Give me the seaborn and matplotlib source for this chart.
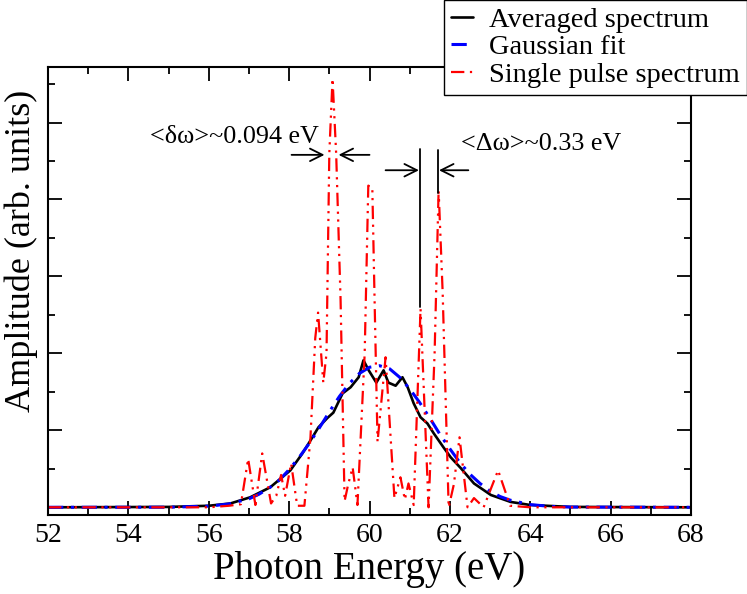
import matplotlib
matplotlib.use("Agg")
import matplotlib.pyplot as plt
from matplotlib.ticker import MultipleLocator, NullFormatter
import seaborn as sns

# values (photon energy in eV, amplitude in arb. units)
avg_x = [52.0, 55.0, 56.0, 56.54, 57.03, 57.53, 57.78, 58.03, 58.33, 58.58, 58.73, 58.95,
         59.1, 59.33, 59.53, 59.73, 59.85, 59.98, 60.17, 60.35, 60.47, 60.65, 60.82, 60.95,
         61.1, 61.27, 61.44, 61.6, 61.84, 62.02, 62.27, 62.6, 63.02, 63.51, 64.0, 65.0, 68.0]
avg_y = [0.0, 0.005, 0.02, 0.05, 0.13, 0.26, 0.37, 0.48, 0.70, 0.91, 1.04, 1.16,
         1.23, 1.48, 1.56, 1.69, 1.91, 1.78, 1.62, 1.78, 1.62, 1.58, 1.69, 1.56,
         1.35, 1.17, 1.09, 0.96, 0.78, 0.65, 0.51, 0.31, 0.16, 0.07, 0.03, 0.005, 0.0]

fit_x = [52.0, 55.0, 56.0, 56.5, 57.0, 57.25, 57.5, 57.75, 58.0, 58.25, 58.5, 58.75, 59.0,
         59.25, 59.5, 59.75, 60.0, 60.25, 60.5, 60.75, 61.0, 61.25, 61.5, 61.75, 62.0,
         62.25, 62.5, 62.75, 63.0, 63.25, 63.5, 64.0, 64.5, 65.0, 68.0]
fit_y = [0.0, 0.001, 0.015, 0.043, 0.11, 0.17, 0.25, 0.35, 0.49, 0.65, 0.83, 1.03, 1.24,
         1.44, 1.61, 1.74, 1.82, 1.84, 1.80, 1.69, 1.54, 1.36, 1.16, 0.95, 0.76,
         0.58, 0.43, 0.31, 0.21, 0.14, 0.093, 0.035, 0.012, 0.003, 0.0]

pulse_x = [52.0, 56.0, 56.5, 56.8, 56.98, 57.16, 57.33, 57.55, 57.68, 57.8, 57.9, 58.05,
           58.2, 58.38, 58.53, 58.65, 58.72, 58.85, 58.93, 59.0, 59.08, 59.17, 59.28,
           59.38, 59.47, 59.58, 59.7, 59.88, 59.97, 60.07, 60.13, 60.2, 60.4, 60.62,
           60.77, 60.88, 60.97, 61.1, 61.27, 61.47, 61.62, 61.72, 61.82, 61.97, 62.1,
           62.24, 62.44, 62.6, 62.84, 63.2, 63.5, 64.0, 68.0]
pulse_y = [0.0, 0.0, 0.02, 0.04, 0.63, 0.03, 0.70, 0.05, 0.15, 0.42, 0.15, 0.57,
           0.02, 0.02, 0.90, 2.20, 2.53, 1.62, 2.0, 4.6, 5.57, 4.6, 2.7,
           0.08, 0.30, 0.52, 0.03, 2.0, 4.18, 4.15, 2.6, 0.85, 1.95, 0.12,
           0.39, 0.10, 0.31, 0.03, 2.58, 0.0, 2.0, 4.12, 2.8, 0.0, 0.3,
           0.91, 0.0, 0.12, 0.0, 0.48, 0.02, 0.0, 0.0]

sns.set_theme(style="ticks")
plt.rcParams['font.family'] = ['Liberation Serif', 'DejaVu Serif']
plt.rcParams['text.color'] = 'black'
plt.rcParams['axes.labelcolor'] = 'black'

fig = plt.figure(figsize=(7.47, 5.94), dpi=100)
ax = fig.add_axes([0.0643, 0.133, 0.8607, 0.754])

sns.lineplot(x=avg_x, y=avg_y, ax=ax, color='black', lw=1.9, label='Averaged spectrum')
sns.lineplot(x=fit_x, y=fit_y, ax=ax, color='blue', lw=2.2,
             linestyle=(0, (5, 2.5, 1, 2.5)), label='Gaussian fit')
sns.lineplot(x=pulse_x, y=pulse_y, ax=ax, color='red', lw=1.6,
             linestyle=(0, (6, 2.5, 1, 2.5, 1, 2.5)), label='Single pulse spectrum')

# markers of the spike spacing
ax.plot([61.25, 61.25], [2.6, 4.66], color='black', lw=1.3)
ax.plot([61.71, 61.71], [4.09, 4.64], color='black', lw=1.3)
arrow = dict(arrowstyle='->,head_length=0.6,head_width=0.3', color='black', lw=1.3,
             mutation_scale=15, shrinkA=0, shrinkB=0)
ax.annotate('', xy=(58.88, 4.58), xytext=(58.06, 4.58), arrowprops=arrow)
ax.annotate('', xy=(59.23, 4.58), xytext=(60.0, 4.58), arrowprops=arrow)
ax.annotate('', xy=(61.23, 4.38), xytext=(60.4, 4.38), arrowprops=arrow)
ax.annotate('', xy=(61.73, 4.38), xytext=(62.46, 4.38), arrowprops=arrow)
ax.text(54.54, 4.73, '<δω>~0.094 eV', fontsize=18.8, va='baseline')
ax.text(62.27, 4.64, '<Δω>~0.33 eV', fontsize=18.8, va='baseline')

ax.set_xlim(52, 68)
ax.set_ylim(-0.1, 5.72)
ax.xaxis.set_major_locator(MultipleLocator(2))
ax.xaxis.set_minor_locator(MultipleLocator(1))
ax.yaxis.set_major_locator(MultipleLocator(1))
ax.yaxis.set_minor_locator(MultipleLocator(0.5))
ax.yaxis.set_major_formatter(NullFormatter())
ax.tick_params(which='both', direction='in', top=True, right=True, width=1.3,
               labelsize=20, colors='black')
ax.tick_params(which='major', length=10, pad=6)
ax.tick_params(which='minor', length=5)
for s in ax.spines.values():
    s.set_linewidth(1.5)
    s.set_color('black')

ax.set_xlabel('Photon Energy (eV)', fontsize=28, labelpad=2)
ax.set_ylabel('Amplitude (arb. units)', fontsize=26)
ax.yaxis.set_label_coords(-0.016, 0.589)

ax.get_legend().remove()
handles, labels = ax.get_legend_handles_labels()
leg = fig.legend(handles, labels, loc='upper right', bbox_to_anchor=(1.0, 1.0),
                 fontsize=20.5, frameon=True, fancybox=False, framealpha=1,
                 edgecolor='black', borderpad=0.25, labelspacing=0.05,
                 handlelength=0.8, handletextpad=0.55, borderaxespad=0)
leg.get_frame().set_linewidth(1.0)

fig.savefig('out.png', dpi=100)
